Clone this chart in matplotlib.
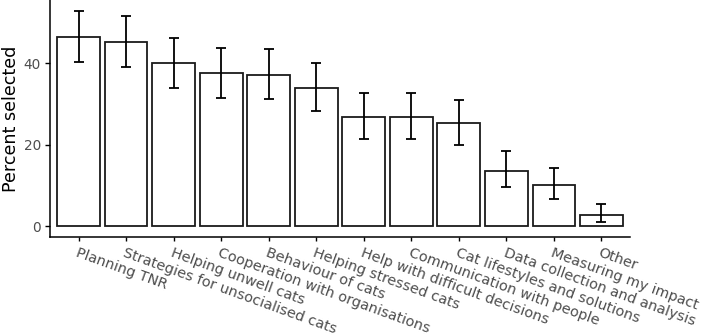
import matplotlib
matplotlib.use("Agg")
import matplotlib.pyplot as plt
import matplotlib.transforms as mtransforms
import numpy as np

# topics offered, sorted by percent selected
topics = ["Planning TNR", "Strategies for unsocialised cats", "Helping unwell cats",
          "Cooperation with organisations", "Behaviour of cats", "Helping stressed cats",
          "Help with difficult decisions", "Communication with people",
          "Cat lifestyles and solutions", "Data collection and analysis",
          "Measuring my impact", "Other"]
percent = [46.5, 45.3, 40.0, 37.6, 37.1, 34.0, 26.7, 26.7, 25.3, 13.6, 10.1, 2.7]
ci_low = [40.3, 39.1, 33.9, 31.6, 31.2, 28.3, 21.4, 21.4, 19.9, 9.6, 6.6, 1.0]
ci_high = [52.9, 51.7, 46.1, 43.8, 43.4, 40.2, 32.6, 32.6, 30.9, 18.4, 14.4, 5.4]

grey = "#4D4D4D"

fig = plt.figure(figsize=(7.09, 3.36), dpi=100)
ax = fig.add_axes([0.0705, 0.2946, 0.8181, 0.7054])

x = np.arange(len(topics))
pct = np.array(percent)
yerr = np.array([pct - np.array(ci_low), np.array(ci_high) - pct])

ax.bar(x, pct, width=0.9, color="white", edgecolor="#1a1a1a", linewidth=1.3)
ax.errorbar(x, pct, yerr=yerr, fmt="none", ecolor="black", elinewidth=1.3,
            capsize=3.3, capthick=1.3)

ax.set_xlim(-0.6, len(topics) - 1 + 0.6)
ax.set_ylim(-2.65, 55.55)
ax.set_yticks([0, 20, 40])
ax.set_xticks(x)
ax.set_xticklabels(topics, rotation=-20, ha="left", va="top",
                   rotation_mode="anchor", fontsize=10.4, color=grey)
# nudge labels a little right, as in the original
shift = mtransforms.ScaledTranslation(3 / 72, 0, fig.dpi_scale_trans)
for lbl in ax.get_xticklabels():
    lbl.set_transform(lbl.get_transform() + shift)
ax.tick_params(axis="y", labelsize=9.8, labelcolor=grey, length=3.5, width=1, pad=3)
ax.tick_params(axis="x", length=3, width=1, pad=3)
ax.set_ylabel("Percent selected", fontsize=12.6, labelpad=3)

for side in ["top", "right"]:
    ax.spines[side].set_visible(False)
for side in ["left", "bottom"]:
    ax.spines[side].set_linewidth(1.1)

fig.savefig("out.png", dpi=100)
